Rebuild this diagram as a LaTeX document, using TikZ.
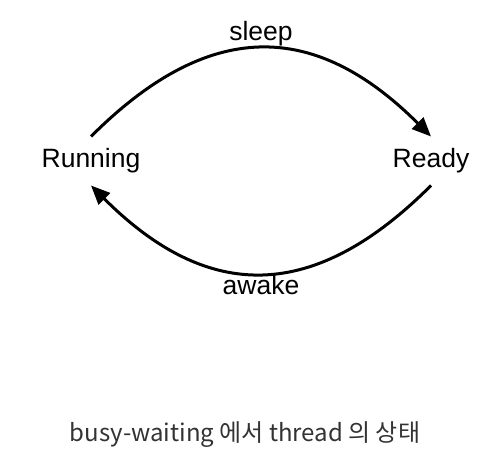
\documentclass[tikz,border=0pt]{standalone}
\usepackage{fontspec}
\setmainfont{Liberation Sans}
\newfontfamily\krfont{Noto Sans CJK KR}
\usetikzlibrary{arrows.meta,positioning}

\begin{document}
\begin{tikzpicture}[x=1pt,y=1pt,node distance=340pt,on grid,auto,
  >={Triangle[length=19pt,width=16pt]},line width=3pt,
  font=\fontsize{26.5}{32}\selectfont,
  state/.style={inner sep=0pt,minimum height=46pt}]
  \useasboundingbox (0,0) rectangle (494,465);
  \node[state] (run) at (91,304) {Running};
  \node[state] (rdy) [right = of run] {Ready};
  \node[text=black!80,font=\krfont\fontsize{24}{28}\selectfont] (cap) at (245,30) {busy-waiting 에서 thread 의 상태};
  \path[->]
  (run.north)
  edge [out=45,in=135,looseness=1.25] node [inner sep=1pt] {sleep} (rdy.north)
  (rdy.south)
  edge [out=-135,in=-45,looseness=1.25] node [inner sep=0pt] {awake} (run.south)
  ;
\end{tikzpicture}
\end{document}
